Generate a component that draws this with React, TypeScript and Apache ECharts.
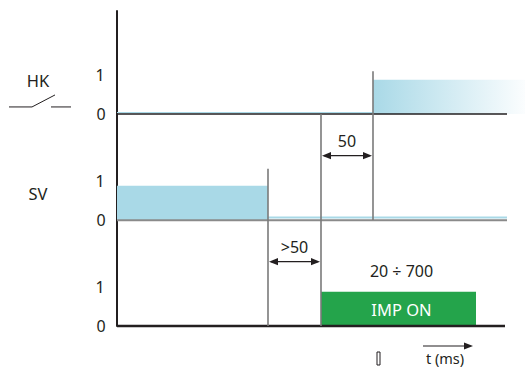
import React, { useEffect, useRef } from "react";
import * as echarts from "echarts";

// ---- Data ----
const channelNames = ["HK", "SV", ""];
const channelOffsets = [6.2, 3.1, 0];
const levelLabels = ["0", "1"];
// edge times (arbitrary time units) and the state from each edge on
const hkTimes = [0, 256];
const hkStates = [0, 1];
const svTimes = [0, 151];
const svStates = [1, 0];
const impTimes = [0, 204, 359];
const impStates = [0, 1, 0];
const traceEnd = [390, 390, 388];
const markerTimes = [151, 204, 256];
const markerFrom = [0, 0, 3.1];
const markerTo = [4.6, 6.2, 7.45];
const intervalFrom = [204, 151];
const intervalTo = [256, 204];
const intervalLevel = [4.98, 1.88];
const intervalLabels = ["50", ">50"];
const pulseRangeLabel = "20 ÷ 700";
const pulseLabel = "IMP ON";
const timeAxisLabel = "t (ms)";
const X_MAX = 408;
const Y_MAX = 9.21;

const channelTimes = [hkTimes, svTimes, impTimes];
const channelStates = [hkStates, svStates, impStates];

const INK = "#231f20";
const BLUE = "#a9d9e7";
const GREEN = "#24a44b";
const FONT = '"Noto Sans", "DejaVu Sans", sans-serif';
const FS = 16;

function txt(text: string, x: number, y: number, size = FS, fill = INK, align = "center") {
  return {
    type: "text",
    style: { text, x, y, fill, fontSize: size, fontFamily: FONT, align, verticalAlign: "middle" },
  };
}
function ln(x1: number, y1: number, x2: number, y2: number, stroke: string, lineWidth: number) {
  return { type: "line", shape: { x1, y1, x2, y2 }, style: { stroke, lineWidth } };
}
function doubleArrow(x1: number, x2: number, y: number) {
  const L = 9, W = 3.6;
  return [
    ln(x1 + 2, y, x2 - 2, y, INK, 1.2),
    { type: "polygon", shape: { points: [[x1, y], [x1 + L, y - W], [x1 + L, y + W]] }, style: { fill: INK } },
    { type: "polygon", shape: { points: [[x2, y], [x2 - L, y - W], [x2 - L, y + W]] }, style: { fill: INK } },
  ];
}

const renderItem = (_params: any, api: any) => {
  const c = (t: number, v: number) => api.coord([t, v]);
  const children: any[] = [];
  const origin = c(0, 0);

  channelTimes.forEach((times, i) => {
    const off = channelOffsets[i];
    const states = channelStates[i];
    const base = c(0, off)[1];
    const top = c(0, off + 1)[1];
    const endX = c(traceEnd[i], off)[0];
    // high segments
    for (let k = 0; k < times.length; k++) {
      const t0 = times[k];
      const t1 = k + 1 < times.length ? times[k + 1] : states[k] === 1 && i === 0 ? X_MAX : traceEnd[i];
      const x0 = c(t0, off)[0];
      const x1 = c(t1, off)[0];
      if (states[k] === 1) {
        let fill: any = BLUE;
        if (i === 0) {
          fill = new echarts.graphic.LinearGradient(0, 0, 1, 0, [
            { offset: 0, color: "#a9d9e7" },
            { offset: 1, color: "#fbfdfe" },
          ]);
        } else if (i === 2) {
          fill = GREEN;
        }
        children.push({ type: "rect", shape: { x: x0, y: top, width: x1 - x0, height: base - top }, style: { fill } });
        if (i === 2) {
          children.push(txt(pulseLabel, (x0 + x1) / 2 + 3, (top + base) / 2 + 1, 16.5, "#ffffff"));
          children.push(txt(pulseRangeLabel, (x0 + x1) / 2 + 3, c(0, off + 1.6)[1], FS));
        }
      } else if (i < 2) {
        // low-state trace
        const w = i === 0 ? 1.2 : 2;
        const dy = i === 0 ? -1.4 : -2.4;
        children.push(ln(x0, base + dy, x1, base + dy, BLUE, w));
      }
    }
    // baseline
    const baseColor = i === 1 ? "#8a8a8a" : INK;
    const baseWidth = i === 2 ? 2.5 : i === 1 ? 1.8 : 1.4;
    children.push(ln(origin[0], base + (i === 1 ? 0.3 : 0), endX, base + (i === 1 ? 0.3 : 0), baseColor, baseWidth));
    // level labels
    children.push(txt(levelLabels[0], origin[0] - 16, base, FS));
    children.push(txt(levelLabels[1], origin[0] - 17, top - 5, FS));
    // channel names
    if (channelNames[i]) {
      const ny = i === 0 ? top + 0.5 : top + 7.5;
      children.push(txt(channelNames[i], origin[0] - 79, ny, 16.5));
    }
    if (i === 0) {
      // switch symbol
      const sy = base - 7;
      const ox = origin[0];
      children.push(ln(ox - 108, sy, ox - 85, sy, INK, 1));
      children.push(ln(ox - 85, sy, ox - 62, sy - 12, INK, 1));
      children.push(ln(ox - 66, sy, ox - 46, sy, INK, 1));
    }
  });

  // marker lines
  markerTimes.forEach((t, k) => {
    const p0 = c(t, markerFrom[k]);
    const p1 = c(t, markerTo[k]);
    children.push(ln(p0[0], p0[1], p1[0], p1[1], "#7a7a7a", 1.6));
  });

  // interval arrows
  intervalFrom.forEach((t0, k) => {
    const a = c(t0, intervalLevel[k]);
    const b = c(intervalTo[k], intervalLevel[k]);
    children.push(...doubleArrow(a[0] + 1, b[0] - 1, a[1]));
    children.push(txt(intervalLabels[k], (a[0] + b[0]) / 2, a[1] - 15, FS));
  });

  return { type: "group", children };
};

export default function App() {
  const ref = useRef<HTMLDivElement>(null);
  useEffect(() => {
    if (!ref.current) return;
    const chart = echarts.init(ref.current, undefined, { renderer: "svg" });
    chart.setOption({
      animation: false,
      backgroundColor: "#ffffff",
      grid: { left: 117, right: 0, top: 11, bottom: 43 },
      xAxis: { type: "value", min: 0, max: X_MAX, show: false },
      yAxis: {
        type: "value",
        min: 0,
        max: Y_MAX,
        axisLine: { show: true, lineStyle: { color: INK, width: 2 } },
        axisTick: { show: false },
        axisLabel: { show: false },
        splitLine: { show: false },
      },
      series: [
        {
          type: "custom",
          coordinateSystem: "cartesian2d",
          clip: false,
          silent: true,
          data: [[0, 0]],
          renderItem,
        },
      ],
      graphic: [
        { type: "rect", shape: { x: 377, y: 352, width: 3, height: 13 }, style: { fill: "#ffffff", stroke: INK, lineWidth: 1 } },
        { type: "line", shape: { x1: 423, y1: 346, x2: 466, y2: 346 }, style: { stroke: INK, lineWidth: 1.2 } },
        { type: "polygon", shape: { points: [[473, 346], [464, 342.5], [464, 349.5]] }, style: { fill: INK } },
        {
          type: "text",
          style: { text: timeAxisLabel, x: 445, y: 358, fill: INK, fontSize: 14.5, fontFamily: FONT, align: "center", verticalAlign: "middle" },
        },
      ],
    });
    return () => chart.dispose();
  }, []);
  return <div ref={ref} style={{ position: "fixed", left: 0, top: 0, width: 525, height: 369 }} />;
}
